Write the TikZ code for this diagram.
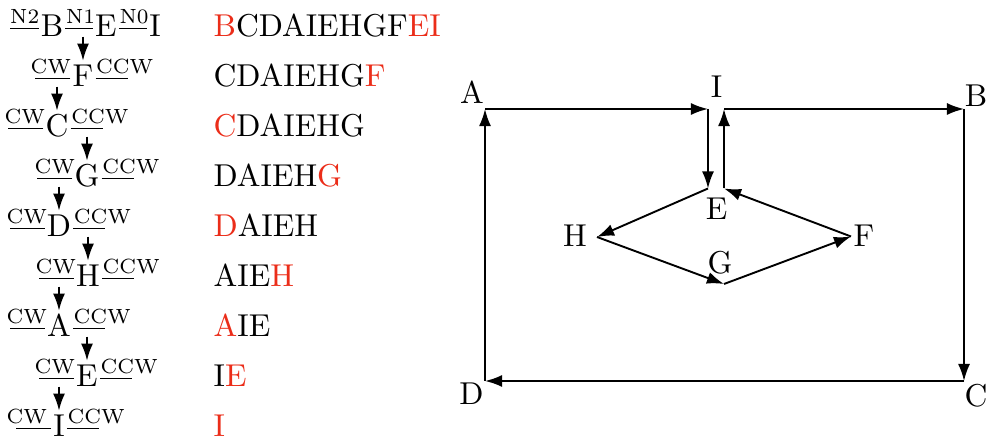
\documentclass[tikz,border=0pt]{standalone}
\usetikzlibrary{arrows.meta}
\definecolor{hl}{RGB}{235,45,25}
\begin{document}
\begin{tikzpicture}[x=0.3164pt,y=-0.3164pt,
  arr/.style={-{Latex[length=5.4pt,width=3.8pt]}, line width=0.6pt},
  letr/.style={anchor=base, inner xsep=0.5pt, inner ysep=1.2pt, text height=6.83pt, text depth=1.5pt},
  lab/.style={anchor=base west, inner sep=0pt, font=\fontsize{6.5}{7}\selectfont},
  seq/.style={anchor=base west, inner sep=0pt},
  gl/.style={anchor=base, inner sep=0pt},
  ul/.style={line width=0.4pt}]
\useasboundingbox (0,0) rectangle (994,439);

% ---------- left column ----------
\node[letr] (r0b) at (52,36.7) {B};
\node[letr] (r0e) at (106,36.7) {E};
\node[letr] (r0i) at (155,36.7) {I};
\draw[ul] (r0b.west) -- ++(-29,0) coordinate (r0s);
\node[lab] (tn2) at ([yshift=1.4pt]r0s) {N2};
\draw[ul] (r0b.east) -- (r0e.west);
\node[lab] (tn1) at ([yshift=1.4pt]r0b.east) {N1};
\draw[ul] (r0e.east) -- (r0i.west);
\node[lab] (tn0) at ([yshift=1.4pt]r0e.east) {N0};

\foreach \k/\l/\x in {1/F/83,2/C/57,3/G/87,4/D/59,5/H/88,6/A/59,7/E/87,8/I/59}{
  \node[letr] (r\k) at (\x,{36.7+50*\k}) {\l};
  \draw[ul] (r\k.west) -- ++(-35,0) coordinate (cw\k);
  \node[lab, anchor=base east] (tcw\k) at ([xshift=-3.6pt,yshift=4.05pt]r\k.base) {CW};
  \draw[ul] (r\k.east) -- ++(32,0);
  \node[lab] (tccw\k) at ([yshift=1.4pt]r\k.east) {CCW};
}
\draw[arr] (r1.north |- r0b.base) -- (r1.north);
\foreach \k/\p in {2/1,3/2,4/3,5/4,6/5,7/6,8/7}{
  \draw[arr] (r\k.north |- r\p.base) -- (r\k.north);
}

% ---------- sequences ----------
\node[seq] (s0) at (213,36.7) {\textcolor{hl}{B}CDAIEHGF\textcolor{hl}{EI}};
\node[seq] (s1) at (213,86.7) {CDAIEHG\textcolor{hl}{F}};
\node[seq] (s2) at (213,136.7) {\textcolor{hl}{C}DAIEHG};
\node[seq] (s3) at (213,186.7) {DAIEH\textcolor{hl}{G}};
\node[seq] (s4) at (213,236.7) {\textcolor{hl}{D}AIEH};
\node[seq] (s5) at (213,286.7) {AIE\textcolor{hl}{H}};
\node[seq] (s6) at (213,336.7) {\textcolor{hl}{A}IE};
\node[seq] (s7) at (213,386.7) {I\textcolor{hl}{E}};
\node[seq] (s8) at (213,436.7) {\textcolor{hl}{I}};

% ---------- graph ----------
\coordinate (A) at (485,109);
\coordinate (Iw) at (708,109);
\coordinate (Ie) at (724,109);
\coordinate (B) at (964,109);
\coordinate (C) at (964,381);
\coordinate (D) at (485,381);
\coordinate (Ew) at (708,188.5);
\coordinate (Ee) at (724,188.5);
\coordinate (H) at (597,237);
\coordinate (G) at (724,284);
\coordinate (F) at (851,236.5);

\node[gl] (lA) at (472,103.3) {A};
\node[gl] (lI) at (716.5,97.7) {I};
\node[gl] (lB) at (976,106.7) {B};
\node[gl] (lE) at (716.5,220) {E};
\node[gl] (lH) at (575,246.7) {H};
\node[gl] (lG) at (720,273.3) {G};
\node[gl] (lF) at (864,246.7) {F};
\node[gl] (lD) at (471.5,405) {D};
\node[gl] (lC) at (976,406) {C};

\draw[arr] (A) -- (Iw);
\draw[arr] (Ie) -- (B);
\draw[arr] (B) -- (C);
\draw[arr] (C) -- (D);
\draw[arr] (D) -- (A);
\draw[arr] (Iw) -- (Ew);
\draw[arr] (Ee) -- (Ie);
\draw[arr] (Ew) -- (H);
\draw[arr] (H) -- (G);
\draw[arr] (G) -- (F);
\draw[arr] (F) -- (Ee);
\end{tikzpicture}
\end{document}
